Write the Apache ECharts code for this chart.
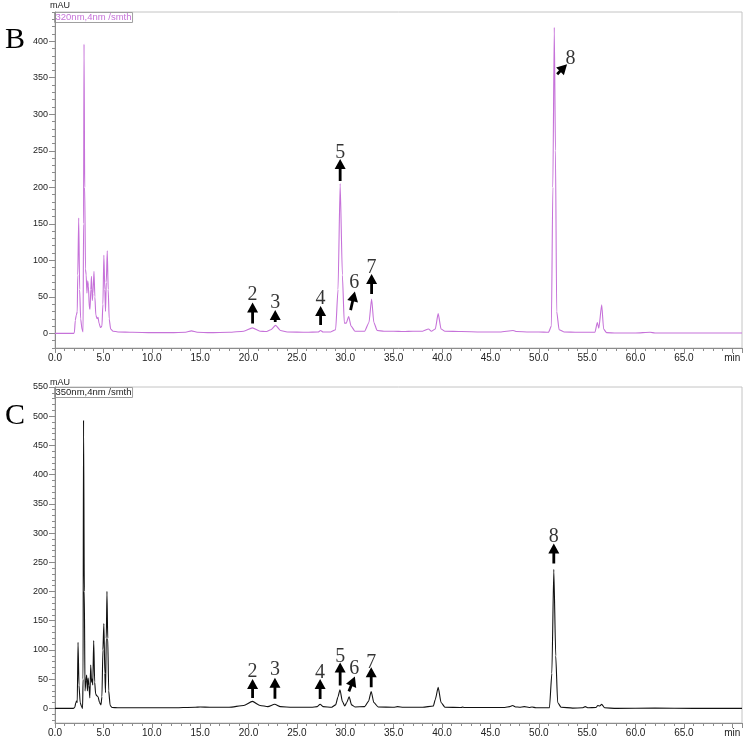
<!DOCTYPE html>
<html>
<head>
<meta charset="utf-8">
<script src="https://cdn.jsdelivr.net/npm/echarts@6/dist/echarts.min.js"></script>
<style>
  html, body { margin: 0; padding: 0; background: #fff; }
  #chart { width: 749px; height: 744px; }
</style>
</head>
<body>
<div id="chart"></div>
<script>
// chromatogram B, 320 nm  [time (min), absorbance (mAU)]
const traceB = [
  [0,0],[1.9,0],[2.0,1],[2.1,18],[2.2,25],[2.3,30],[2.35,80],[2.45,158],[2.55,60],[2.65,20],
  [2.8,5],[2.9,2],[2.95,150],[3.0,396],[3.07,200],[3.15,88],[3.22,80],[3.3,55],[3.38,72],[3.45,65],
  [3.55,35],[3.62,33],[3.7,60],[3.77,78],[3.85,45],[3.92,55],[4.03,85],[4.12,50],[4.22,25],[4.35,20],
  [4.45,22],[4.55,14],[4.7,8],[4.85,10],[4.95,40],[5.05,107],[5.15,60],[5.22,30],[5.3,70],[5.4,113],
  [5.5,60],[5.6,20],[5.75,6],[6.0,3],[6.5,2],[8,1.5],[10,1],[12,1],[13.5,1.5],[14.1,3.5],[14.7,1.5],
  [16,1],[18,1.5],[19.5,3],[20.4,7.5],[21.2,3],[21.8,2.5],[22.3,5],[22.8,11],[23.3,4],[24,2],[26,1.5],
  [27.2,2],[27.45,4],[27.7,2],[28.5,2],[29.0,5],[29.25,60],[29.47,205],[29.7,80],[29.9,14],[30.1,14],
  [30.35,23],[30.6,10],[31,3],[32,3],[32.45,15],[32.72,47],[32.95,15],[33.3,4],[34,3],[35,3],[36,2.5],
  [37,3],[38,3],[38.6,6],[38.9,3],[39.3,6],[39.6,27],[39.9,6],[40.3,3],[42,2.5],[44,2],[46,2],
  [47.35,4],[47.7,2.5],[49,2],[50,2],[51,1.5],[51.3,10],[51.45,200],[51.6,419],[51.72,250],[51.85,30],
  [52.1,5],[52.6,2],[54,1.5],[55.8,1.5],[56.05,15],[56.2,7],[56.5,39],[56.7,6],[57,1],[58,0.5],
  [60,0.5],[61.5,1.5],[62,0.5],[65,0.5],[71,0.5]
];

// chromatogram C, 350 nm
const traceC = [
  [0,0],[1.9,0],[2.05,2],[2.15,10],[2.25,13],[2.3,10],[2.38,113],[2.48,40],[2.6,10],[2.75,3],
  [2.85,0],[2.9,50],[2.95,493],[3.03,200],[3.1,30],[3.2,48],[3.27,57],[3.35,30],[3.42,52],[3.5,40],
  [3.6,18],[3.69,74],[3.78,45],[3.85,50],[3.9,40],[4.0,116],[4.1,45],[4.2,25],[4.3,22],[4.45,20],
  [4.6,10],[4.75,6],[4.85,20],[4.95,100],[5.05,145],[5.15,60],[5.22,27],[5.3,120],[5.37,200],[5.45,120],
  [5.55,30],[5.7,5],[5.9,1.5],[6.5,1],[8,1],[12,1],[14.5,2],[15,2.5],[16,2],[18,2],[19.5,5],[20.4,12],
  [21.2,5],[22,3],[22.7,7],[23.3,3],[24.5,2],[26.5,2],[27.1,3],[27.4,7],[27.7,3],[28.6,2],[29.0,6],
  [29.25,20],[29.45,32],[29.7,12],[29.95,4],[30.15,10],[30.4,20],[30.65,6],[31,2.5],[32,3],[32.4,12],
  [32.68,29],[32.95,10],[33.4,2.5],[35,2],[35.4,3],[36,2],[38,2],[39.1,4],[39.3,15],[39.6,36],[39.9,10],
  [40.3,2],[42,1.5],[42.1,2.5],[42.3,1.5],[46.5,1.5],[47.0,3],[47.3,5],[47.6,2.5],[48,2],[48.5,3],
  [49,1.5],[49.3,2.5],[49.7,1],[51.1,1],[51.35,60],[51.55,238],[51.75,90],[51.95,10],[52.3,2],
  [53.5,0.5],[54.5,1],[54.8,3],[55.1,1],[55.9,1.5],[56.1,5],[56.3,4],[56.5,7],[56.8,1],[58,0],
  [62,0.5],[66,0],[71,0]
];

// peak markers: [label, arrow time, arrow value, arrow length px, rotation deg, label time, label value]
const peaksB = [
  ['2', 20.42, 27.9, 21, 0, 20.42, 52.6],
  ['3', 22.76, 23.8, 12, 0, 22.76, 41.6],
  ['4', 27.45, 24.5, 19, 0, 27.45, 47.1],
  ['5', 29.47, 223.6, 22, 0, 29.47, 247.7],
  ['6', 30.77, 44.6, 19, -13, 30.92, 69.1],
  ['7', 32.72, 67.7, 20, 0, 32.72, 90.4],
  ['8', 52.41, 361.7, 14, -45, 53.27, 375.7]
];
const peaksC = [
  ['2', 20.42, 34.1, 19, 0, 20.42, 63.1],
  ['3', 22.73, 34.5, 21, 0, 22.73, 66.0],
  ['4', 27.40, 33.1, 20, 0, 27.40, 60.4],
  ['5', 29.47, 58.7, 23, 0, 29.47, 87.7],
  ['6', 30.68, 41.8, 16, -22, 30.92, 67.2],
  ['7', 32.68, 53.2, 20, 0, 32.68, 78.5],
  ['8', 51.55, 265.2, 20, 0, 51.55, 293.5]
];

const yLabelsB = [0, 50, 100, 150, 200, 250, 300, 350, 400];
const yLabelsC = [0, 50, 100, 150, 200, 250, 300, 350, 400, 450, 500, 550];

const chart = echarts.init(document.getElementById('chart'));

// upward arrow drawn in pixel units, tip at the top
const arrowPath = (len) => {
  const h = 10, w = 11, s = 1.4;
  return 'path://M' + (w / 2) + ',0 L' + w + ',' + h + ' L' + (w / 2 + s) + ',' + h +
    ' L' + (w / 2 + s) + ',' + len + ' L' + (w / 2 - s) + ',' + len + ' L' + (w / 2 - s) + ',' + h +
    ' L0,' + h + ' Z';
};

const range = (a, b, step) => {
  const out = [];
  for (let v = a; v <= b; v += step) out.push(v);
  return out;
};

const xAxisFor = (gridIndex) => ({
  type: 'value',
  gridIndex,
  min: 0,
  max: 71,
  interval: 5,
  splitLine: { show: false },
  axisLine: { onZero: false, lineStyle: { color: '#8c8c8c', width: 1 } },
  axisTick: { length: 5, lineStyle: { color: '#8c8c8c' } },
  minorTick: { show: true, splitNumber: 5, length: 3, lineStyle: { color: '#8c8c8c' } },
  axisLabel: {
    fontSize: 10, color: '#222', margin: 5, fontFamily: 'Liberation Sans',
    showMaxLabel: false,
    formatter: v => (v === 70 ? 'min' : v.toFixed(1))
  }
});

const yAxisFor = (gridIndex, min, max, labels) => ({
  type: 'value',
  gridIndex,
  min,
  max,
  splitLine: { show: false },
  axisLine: { onZero: false, lineStyle: { color: '#8c8c8c', width: 1 } },
  axisTick: { length: 6, customValues: labels, lineStyle: { color: '#8c8c8c' } },
  axisLabel: { fontSize: 9, color: '#222', margin: 7, fontFamily: 'Liberation Sans', customValues: labels }
});

const yMinorFor = (gridIndex, min, max) => ({
  type: 'value',
  gridIndex,
  position: 'left',
  min,
  max,
  splitLine: { show: false },
  axisLine: { show: false },
  axisTick: { length: 3, customValues: range(Math.ceil(min / 10) * 10, max, 10), lineStyle: { color: '#8c8c8c' } },
  axisLabel: { show: false }
});

const arrowSeries = (peaks, xi, yi) => ({
  type: 'scatter',
  xAxisIndex: xi,
  yAxisIndex: yi,
  silent: true,
  z: 5,
  data: peaks.map(p => ({
    value: [p[1], p[2]],
    symbol: arrowPath(p[3]),
    symbolSize: [11, p[3]],
    symbolRotate: p[4]
  })),
  itemStyle: { color: '#000', opacity: 1 }
});

const labelSeries = (peaks, xi, yi) => ({
  type: 'scatter',
  xAxisIndex: xi,
  yAxisIndex: yi,
  silent: true,
  symbolSize: 0,
  z: 6,
  data: peaks.map(p => ({ value: [p[5], p[6]], name: p[0] })),
  label: {
    show: true,
    position: 'inside',
    formatter: d => d.name,
    fontFamily: 'Liberation Serif',
    fontSize: 20,
    color: '#000'
  }
});

chart.setOption({
  animation: false,
  backgroundColor: '#fff',
  grid: [
    { left: 55, top: 12, right: 7, height: 336, show: true, borderColor: '#c4c4c4', borderWidth: 1 },
    { left: 55, top: 387, right: 7, height: 336, show: true, borderColor: '#c4c4c4', borderWidth: 1 }
  ],
  xAxis: [xAxisFor(0), xAxisFor(1)],
  yAxis: [
    yAxisFor(0, -20, 440, yLabelsB),
    yAxisFor(1, -25, 550, yLabelsC),
    yMinorFor(0, -20, 440),
    yMinorFor(1, -25, 550)
  ],
  series: [
    {
      type: 'line', xAxisIndex: 0, yAxisIndex: 0, data: traceB, symbol: 'none',
      smooth: 0.2, smoothMonotone: 'x',
      lineStyle: { color: '#c672d9', width: 1.1 }
    },
    {
      type: 'line', xAxisIndex: 1, yAxisIndex: 1, data: traceC, symbol: 'none',
      smooth: 0.2, smoothMonotone: 'x',
      lineStyle: { color: '#111', width: 1.1 }
    },
    arrowSeries(peaksB, 0, 0),
    labelSeries(peaksB, 0, 0),
    arrowSeries(peaksC, 1, 1),
    labelSeries(peaksC, 1, 1)
  ],
  graphic: [
    { type: 'text', left: 5, top: 25, style: { text: 'B', font: '30px "Liberation Serif"', fill: '#000' } },
    { type: 'text', left: 5, top: 401, style: { text: 'C', font: '30px "Liberation Serif"', fill: '#000' } },
    { type: 'text', left: 50, top: 1, style: { text: 'mAU', font: '9px "Liberation Sans"', fill: '#222' } },
    { type: 'text', left: 50, top: 378, style: { text: 'mAU', font: '9px "Liberation Sans"', fill: '#222' } },
    {
      type: 'text', left: 54, top: 12,
      style: {
        text: '320nm,4nm /smth', font: '9.5px "Liberation Sans"', fill: '#c672d9',
        borderColor: '#a0a0a0', borderWidth: 1, padding: [0, 1, 0, 1], lineHeight: 10
      }
    },
    {
      type: 'text', left: 54, top: 387,
      style: {
        text: '350nm,4nm /smth', font: '9.5px "Liberation Sans"', fill: '#222',
        borderColor: '#a0a0a0', borderWidth: 1, padding: [0, 1, 0, 1], lineHeight: 10
      }
    }
  ]
});
</script>
</body>
</html>
